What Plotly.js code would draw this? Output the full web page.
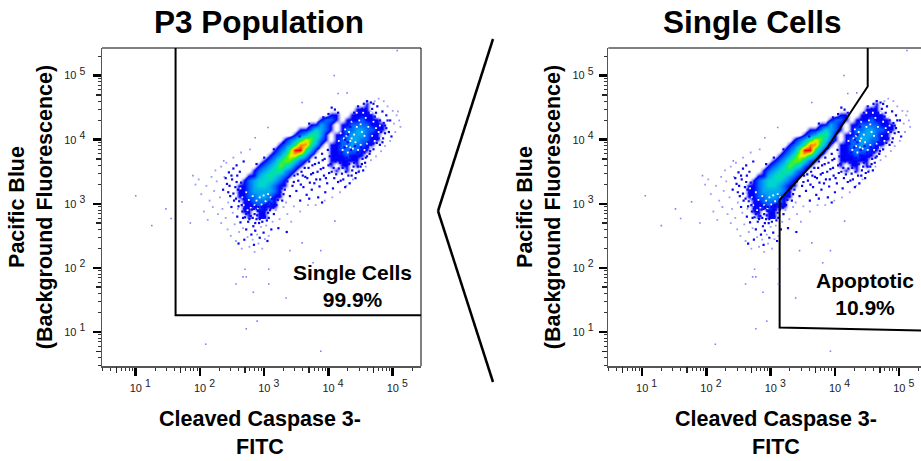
<!DOCTYPE html>
<html><head><meta charset="utf-8">
<script src="https://cdn.plot.ly/plotly-3.0.1.min.js"></script>
<style>html,body{margin:0;padding:0;background:#fff;overflow:hidden;width:921px;height:461px}#c{width:930px;height:461px}</style>
</head><body><div id="c"></div>
<script>
// all positions on the data arrays are log10 of fluorescence
const densityXEdges=[2.16,2.24,2.32,2.40,2.48,2.56,2.64,2.72,2.80,2.88,2.96,3.04,3.12,3.20,3.28,3.36,3.44,3.52,3.60,3.68,3.76,3.84,3.92,4.00,4.08,4.16,4.24,4.32,4.40,4.48,4.56,4.64,4.72,4.80,4.88,4.96,5.04,5.12,5.20];
const densityYEdges=[4.76,4.68,4.60,4.52,4.44,4.36,4.28,4.20,4.12,4.04,3.96,3.88,3.80,3.72,3.64,3.56,3.48,3.40,3.32,3.24,3.16,3.08,3.00,2.92,2.84,2.76];
// each row: [first column, density digits], top row first
const densityRows=[
[],[],
[[30,"1"]],
[[28,"111"]],
[[23,"11"],[27,"11111"]],
[[21,"1221"],[26,"1112111"]],
[[19,"11321"],[25,"112222111"]],
[[17,"1124321"],[25,"122332211"]],
[[16,"1235531"],[24,"112333211"]],
[[14,"123576421"],[24,"122332211"]],
[[13,"123588531"],[23,"112232211"]],
[[12,"123699531"],[23,"11222211"]],
[[11,"123577531"],[23,"1112111"]],
[[10,"123566421"],[23,"111111"]],
[[9,"123465421"],[23,"101101"]],
[[8,"123455321"],[24,"101"]],
[[7,"113454321"]],
[[6,"123444321"]],
[[5,"1123443211"]],
[[5,"112333321"]],
[[5,"112233211"]],
[[6,"1122221"]],
[[6,"1112111"]],
[[6,"11011"]],
[[7,"1011"]]
];
const speckDark=[[2.36,3.22],[2.42,3.31],[2.47,3.12],[2.50,3.38],[2.53,3.05],[2.55,3.26],[2.58,3.44],[2.60,2.96],[2.62,3.17],[2.64,3.33],[2.66,2.88],[2.68,3.08],[2.70,2.79],[2.71,3.02],[2.73,2.94],[2.75,2.72],[2.76,2.86],[2.78,2.99],[2.79,2.81],[2.81,2.91],[2.83,2.65],[2.85,2.84],[2.87,2.96],[2.88,2.76],[2.90,2.89],[2.92,2.70],[2.94,2.83],[2.96,2.95],[2.98,2.79],[3.00,2.88],[3.02,2.98],[3.04,2.74],[3.06,2.86],[3.08,3.03],[3.10,2.93],[3.12,3.08],[3.15,2.84],[3.17,3.00],[3.20,3.13],[3.22,2.62],[3.25,3.18],[3.28,3.05],[2.45,3.49],[2.52,3.55],[2.57,3.60],[2.62,3.50],[2.68,3.66],[2.49,2.95],[2.58,2.80],[2.63,2.71],[2.72,2.60],[2.80,2.52],[2.86,2.58],[2.93,2.47],[2.99,2.55],[3.05,2.42],[3.11,2.60],[2.69,2.44],[2.60,2.38],[2.84,2.36],[3.35,2.56],
[2.40,3.40],[2.44,3.18],[2.46,3.28],[2.49,3.44],[2.52,3.16],[2.56,3.08],[2.57,3.34],[2.59,3.22],[2.61,3.04],[2.65,2.98],[2.67,2.78],[2.69,2.92],[2.72,2.84],[2.74,3.02],[2.77,2.76],[2.80,2.97],[2.82,2.78],[2.84,2.92],[2.86,2.70],[2.89,2.82],[2.91,2.95],[2.93,2.76],[2.95,2.88],[2.97,2.72],[2.99,2.97],[3.01,2.80],[3.03,2.91],[3.05,3.00],[3.07,2.78],[3.09,2.90],[3.11,3.00],[3.14,2.94],[3.16,3.08],[3.19,2.98],[3.21,3.06],[3.24,3.12],[3.27,3.24],[3.30,3.15],
[3.32,3.22],[3.36,3.35],[3.40,3.12],[3.44,3.28],[3.47,3.44],[3.50,3.20],[3.53,3.36],[3.56,3.05],[3.58,3.50],[3.61,3.26],[3.64,3.42],[3.66,3.14],[3.69,3.56],[3.71,3.33],[3.74,3.22],[3.76,3.48],[3.79,3.62],[3.81,3.38],[3.84,3.10],[3.86,3.27],[3.88,3.54],[3.91,3.68],[3.93,3.44],[3.95,3.18],[3.98,3.32],[4.00,3.60],[4.02,3.74],[4.05,3.50],[4.07,3.24],[4.09,3.40],[4.11,3.66],[4.14,3.82],[4.16,3.55],[4.19,3.36],[4.21,3.47],[4.24,3.70],[4.26,3.26],[4.29,3.60],[4.31,3.44],[4.34,3.75],[4.37,3.52],[4.40,3.64],[4.43,3.48],[4.46,3.58],[3.70,3.08],[3.90,3.02],
[3.46,3.34],[3.52,3.46],[3.57,3.30],[3.60,3.44],[3.63,3.56],[3.67,3.40],[3.70,3.66],[3.73,3.46],[3.75,3.60],[3.78,3.32],[3.80,3.72],[3.83,3.50],[3.85,3.64],[3.87,3.38],[3.90,3.78],[3.92,3.56],[3.94,3.70],[3.96,3.40],[3.99,3.84],[4.01,3.48],[4.03,3.62],[4.06,3.78],[4.08,3.56],[4.10,3.88],[4.12,3.46],[4.13,3.72],[4.15,3.34],[4.17,3.94],[4.18,3.64],[4.20,3.80],[4.22,3.56],[4.23,3.38],[4.25,3.88],[4.27,3.50],[4.28,3.72],[4.30,3.96],[4.32,3.62],[4.33,3.32],[4.35,3.84],[4.36,3.44],[4.38,3.72],[4.39,3.58],[4.41,3.90],[4.42,3.40],[4.44,3.68],[4.45,3.80],[4.47,3.50],[4.48,3.74],[4.50,3.58],[4.51,3.88],[4.53,3.70],[4.54,3.52],[4.56,3.80],[4.57,3.64],[4.60,3.74],[4.62,3.88],[4.65,3.82],
[4.62,4.42],[4.68,4.48],[4.72,4.36],[4.76,4.52],[4.80,4.30],[4.84,4.44],[4.88,4.22],[4.90,4.38],[4.94,4.12],[4.96,4.30],[4.98,4.05],[4.75,3.95],[4.70,3.85],[4.64,3.78],[4.58,3.72],[4.52,3.62],[4.85,4.02],[4.80,3.92],[4.90,4.18],[4.40,4.42],[4.46,4.52],[4.50,4.40],[4.55,4.56],[4.60,4.60],[4.66,4.58],[3.92,4.35],[4.00,4.40],[4.05,4.50],[3.70,4.25],[3.55,4.05],[3.30,3.95],[3.15,3.85],[3.00,3.72],[2.88,3.62],[4.10,4.47],[4.15,4.42],
[4.82,4.12],[4.86,4.26],[4.78,4.02],[4.92,4.30],[4.88,4.10],[4.84,3.96],[4.74,4.42],[4.70,4.56],[4.58,4.48],[4.52,4.48],[4.44,4.34],[4.38,4.30],[4.34,4.20],[4.30,4.08],[4.26,4.00],[4.70,3.94],[4.66,4.00],[4.62,3.96]];
const speckLight=[[2.02,3.15],[2.10,3.28],[2.15,3.05],[2.20,2.95],[2.22,3.20],[2.26,3.35],[2.28,2.84],[2.31,3.10],[2.33,2.70],[2.35,2.92],[2.38,3.42],[2.40,2.78],[2.43,2.60],[2.44,3.02],[2.48,2.50],[2.51,2.86],[2.54,2.68],[2.56,2.42],[2.59,2.92],[2.61,2.56],[2.65,2.30],[2.67,2.62],[2.74,2.48],[2.77,2.33],[2.82,2.44],[2.85,2.25],[2.89,2.52],[2.91,2.38],[2.95,2.64],[2.97,2.30],[3.01,2.45],[3.03,2.66],[3.07,2.50],[3.13,2.72],[3.18,2.90],[3.24,2.76],[3.30,2.95],[3.36,2.84],[3.42,2.72],[1.93,3.30],[1.98,3.38],[2.06,2.88],[2.12,2.75],[2.18,3.42],[2.24,3.52],[2.33,3.58],[2.41,3.64],[2.52,3.72],[2.64,3.80],[2.78,3.85],
[5.02,4.25],[5.06,4.38],[5.10,4.30],[5.12,4.20],[5.04,4.12],[5.00,4.45],[4.92,4.52],[4.86,4.60],[4.78,4.64],[4.72,4.60],[5.08,4.44],[4.96,3.98],[4.88,3.90],[4.82,3.82],[4.74,3.74],[4.66,3.68],[4.58,3.58],[4.48,3.52],[4.38,3.38],[4.28,3.28],[4.18,3.18],[4.06,3.10],[3.94,3.05],[3.80,2.98],[3.68,2.98],[3.56,2.88],[3.46,2.96],[3.34,3.02]];
const lowCountGaps=[[2.56,3.14],[2.60,3.02],[2.63,3.24],[2.66,3.10],[2.68,2.98],[2.72,3.18],[2.74,2.90],[2.76,3.06],[2.79,2.94],[2.82,3.12],[2.85,2.98],[2.88,3.05],[2.90,2.93],[2.93,3.10],[2.96,2.99],[2.99,3.13],[3.02,3.04],[3.06,3.15],[3.10,3.10],[2.58,3.32],[2.62,3.40],[2.54,3.22],
[4.16,3.98],[4.19,4.10],[4.22,3.84],[4.24,4.02],[4.26,4.16],[4.28,3.90],[4.30,3.80],[4.32,4.12],[4.34,3.98],[4.36,4.28],[4.38,3.86],[4.40,4.08],[4.42,3.96],[4.44,4.42],[4.46,3.84],[4.48,4.30],[4.50,3.92],[4.52,4.12],[4.54,4.42],[4.56,3.84],[4.58,4.34],[4.60,3.94],[4.62,4.20],[4.64,3.88],[4.66,4.42],[4.68,4.06],[4.70,4.28],[4.72,3.98],[4.74,4.18],[4.76,4.36],[4.78,4.12],[4.80,4.22],[4.82,4.02],[4.84,4.34],[4.44,4.20],[4.50,4.24],[4.36,4.02],[4.56,4.06],[4.34,3.88],[4.28,4.06]];
const outliers=[[1.00,3.125],[1.47,2.92],[1.25,2.66],[1.55,2.77],[1.72,3.03],[1.85,2.70],[1.89,3.44],[5.07,5.39],[4.09,5.00],[4.29,4.73],[4.15,4.72],[3.59,4.58],[3.06,4.19],[2.86,4.03],[2.37,3.67],[2.70,1.98],[2.67,1.86],[2.72,1.86],[2.56,1.75],[2.83,1.62],[3.07,1.98],[3.07,1.75],[3.34,1.53],[2.89,1.17],[2.72,1.05],[2.09,0.81],[3.88,0.70],[3.59,2.39],[3.88,2.27],[3.40,2.27],[3.76,2.08],[4.10,2.73]];
const rightShift=0.05;
const gateLeftX=[1.62,1.62,5.44];
const gateLeftY=[5.44,1.26,1.26];
const gateRightX=[4.51,4.51,3.88,3.65,3.14,3.14,5.44];
const gateRightY=[5.44,4.83,3.875,3.625,3.06,1.07,1.02];
const majorTicks=[10,100,1000,10000,100000];
const midTicks=[5,50,500,5000,50000];
const minorMult=[2,3,4,6,7,8,9];
const minorDecades=[1,10,100,1000,10000,100000];
const tickLabels=["1","2","3","4","5"];

const W=930,H=461;
const px=v=>v/W, py=v=>1-v/H;
const pow10=a=>a.map(v=>Math.pow(10,v));
const minorTicks=[];minorDecades.forEach(d=>minorMult.forEach(m=>minorTicks.push(m*d)));
const densityZ=densityRows.map(segs=>{const r=new Array(densityXEdges.length-1).fill(0);segs.forEach(([s,d])=>d.split('').forEach((c,k)=>{r[s+k]=Number(c);}));return r;});
const rgb=["rgba(255,255,255,0)","#0000ff","#0066ff","#00a8f0","#00d4d0","#00e890","#60f000","#f0f000","#ff8c00","#ff0000"];
const colorscale=rgb.map((c,i)=>[i/9,c]);
const FONT="Liberation Sans, Arial, sans-serif";
const sup=e=>'<sup><span style="font-size:10.5px">'+e+'</span></sup>';
const xTickText=tickLabels.map(e=>'\u00a0\u00a0\u00a010 '+sup(e));
const yTickText=tickLabels.map(e=>'10 '+sup(e));
const xRange=[0.475,5.44],yRange=[0.47,5.43];

function axisBase(range,domain,anchor,title,text,standoff){
  return {type:'log',range,domain,anchor,tickmode:'array',tickvals:majorTicks,ticktext:text,
    ticks:'outside',ticklen:8,tickwidth:2.5,tickcolor:'#000',showgrid:false,zeroline:false,ticklabelstandoff:standoff,
    showline:true,linecolor:'#555',linewidth:1.5,tickfont:{family:FONT,size:11,color:'#222'},
    minor:{tickmode:'array',tickvals:minorTicks,ticks:'outside',ticklen:3,tickwidth:1,tickcolor:'#333',showgrid:false},
    title};
}
function midAxis(range,domain,over,anchor){
  return {type:'log',range,domain,overlaying:over,anchor,tickmode:'array',tickvals:midTicks,
    ticks:'outside',ticklen:5.5,tickwidth:1.5,tickcolor:'#222',showticklabels:false,showgrid:false,zeroline:false,showline:false};
}
function panel(xa,ya,xm,ym,shift,gateX,gateY){
  const xs=a=>pow10(a.map(p=>p[0]+shift)), ys=a=>pow10(a.map(p=>p[1]));
  return [
   {type:'heatmap',x:pow10(densityXEdges.map(v=>v+shift)),y:pow10(densityYEdges),z:densityZ,zmin:0,zmax:9,colorscale,zsmooth:'best',showscale:false,xaxis:xa,yaxis:ya,hoverinfo:'skip'},
   {type:'scatter',mode:'markers',x:xs(lowCountGaps),y:ys(lowCountGaps),marker:{symbol:'square',size:1.8,color:'#ffffff'},xaxis:xa,yaxis:ya,hoverinfo:'skip'},
   {type:'scatter',mode:'markers',x:xs(speckLight),y:ys(speckLight),marker:{symbol:'square',size:1.8,color:'#9a9aff'},xaxis:xa,yaxis:ya,hoverinfo:'skip'},
   {type:'scatter',mode:'markers',x:xs(speckDark),y:ys(speckDark),marker:{symbol:'square',size:2.2,color:'#0808f0'},xaxis:xa,yaxis:ya,hoverinfo:'skip'},
   {type:'scatter',mode:'markers',x:xs(outliers),y:ys(outliers),marker:{symbol:'square',size:1.6,color:'#8080ff'},xaxis:xm,yaxis:ym,hoverinfo:'skip'},
   {type:'scatter',mode:'lines',x:pow10(gateX),y:pow10(gateY),line:{color:'#000',width:2},xaxis:xa,yaxis:ya,hoverinfo:'skip'}
  ];
}
const dataAll=[...panel('x','y','x3','y3',0,gateLeftX,gateLeftY),...panel('x2','y2','x4','y4',rightShift,gateRightX,gateRightY)];

const xd1=[px(102),px(421)],xd2=[px(608.3),px(927.5)],yd=[py(366),py(48)];
const yTitle=()=>({text:'<b>Pacific Blue<br>(Background Fluorescence)</b>',font:{family:FONT,size:21.5,color:'#000'},standoff:5.5});
function frame(x,y){return [
 {type:'line',xref:x+' domain',yref:y+' domain',x0:0,x1:1,y0:1,y1:1,line:{color:'#000',width:1}},
 {type:'line',xref:x+' domain',yref:y+' domain',x0:1,x1:1,y0:0,y1:1,line:{color:'#000',width:1}}];}
const bold=(t,x,y,size)=>({text:'<b>'+t+'</b>',xref:'paper',yref:'paper',x:px(x),y:py(y),showarrow:false,xanchor:'center',yanchor:'middle',font:{family:FONT,size,color:'#000'}});
const layout={width:W,height:H,margin:{l:0,r:0,t:0,b:0},paper_bgcolor:'#fff',plot_bgcolor:'#fff',showlegend:false,
 xaxis:axisBase(xRange,xd1,'y',undefined,xTickText,3),yaxis:axisBase(yRange,yd,'x',yTitle(),yTickText,5),
 xaxis2:axisBase(xRange,xd2,'y2',undefined,xTickText,3),yaxis2:axisBase(yRange,yd,'x2',yTitle(),yTickText,3),
 xaxis3:midAxis(xRange,xd1,'x','y3'),yaxis3:midAxis(yRange,yd,'y','x3'),
 xaxis4:midAxis(xRange,xd2,'x2','y4'),yaxis4:midAxis(yRange,yd,'y2','x4'),
 annotations:[bold('P3 Population',259,22,31.5),bold('Single Cells',752,22,31.5),
   bold('Single Cells<br>99.9%',352,286,21),bold('Apoptotic<br>10.9%',865,294,21),
   bold('Cleaved Caspase 3-<br>FITC',259.5,433,21.5),bold('Cleaved Caspase 3-<br>FITC',775.5,433,21.5)],
 shapes:[...frame('x','y'),...frame('x2','y2'),
  {type:'line',xref:'paper',yref:'paper',x0:px(493),y0:py(39),x1:px(438),y1:py(211),line:{color:'#000',width:2.5}},
  {type:'line',xref:'paper',yref:'paper',x0:px(438),y0:py(211),x1:px(493),y1:py(382),line:{color:'#000',width:2.5}}]};
Plotly.newPlot('c',dataAll,layout,{staticPlot:true,displayModeBar:false});
</script></body></html>
